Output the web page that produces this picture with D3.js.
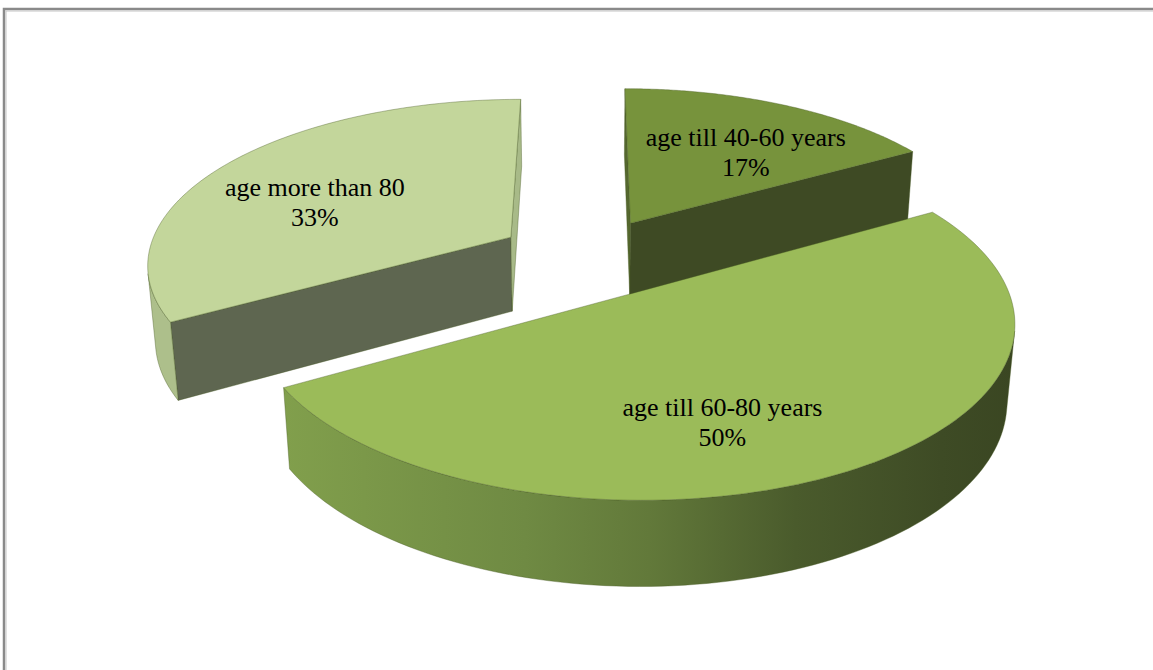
<!DOCTYPE html>
<html>
<head>
<meta charset="utf-8">
<script src="https://cdn.jsdelivr.net/npm/d3@7/dist/d3.min.js"></script>
<style>
  body { margin: 0; background: #fff; }
  svg { display: block; }
</style>
</head>
<body>
<div id="chart"></div>
<script>
// data
var categories = ['age till 40-60 years', 'age till 60-80 years', 'age more than 80'];
var values = [16.7, 50, 33.3];

// colours for each slice: top, start cut, end cut, outer wall
var topColors = ['#77933C', '#9BBB59', '#C3D69B'];
var startColors = ['#55682F', '#7C9A47', '#5E6650'];
var endColors = ['#3E4A24', '#7C9A47', '#A8BA88'];
var wallColors = ['#4A5A2B', 'url(#wallGrad)', '#ADBF8B'];

// where the label sits inside its slice: fraction of the sweep, radius
var labelSpot = [[0.6, 0.61], [0.572, 0.69], [0.433, 0.62]];

var width = 1153;
var height = 670;

// 3d view
var cx = 587;
var cy = 257;
var scale = 364;
var sinT = 0.4506;
var cosT = Math.sqrt(1 - sinT * sinT);
var dist = 5.95;
var explode = 0.246;
var thick = 0.235;
var steps = 120;

var svg = d3.select('#chart').append('svg')
  .attr('width', width)
  .attr('height', height);

var defs = svg.append('defs');
var grad = defs.append('linearGradient')
  .attr('id', 'wallGrad')
  .attr('gradientUnits', 'userSpaceOnUse');
[[0, '#819F4C'], [0.33, '#6F8A43'], [0.5, '#62793A'], [0.7, '#4A5B2C'], [0.9, '#3E4B25'], [1, '#3A4622']]
  .forEach(function (s) {
    grad.append('stop').attr('offset', s[0]).attr('stop-color', s[1]);
  });

// chart frame (right and bottom edges fall outside the picture)
svg.append('path')
  .attr('d', 'M4,' + height + 'V9H' + width)
  .attr('fill', 'none')
  .attr('stroke', '#8a8a8a')
  .attr('stroke-width', 2.5);
svg.append('path')
  .attr('d', 'M6,' + height + 'V11H' + width)
  .attr('fill', 'none')
  .attr('stroke', '#c4c4c4')
  .attr('stroke-width', 1);

function project(X, Y, Z) {
  var depth = 1 + (Z * cosT - Y * sinT) / dist;
  return [cx + scale * X / depth, cy - scale * (Y * cosT + Z * sinT) / depth];
}

// true when the face with normal n through point p looks at the camera
function facing(n, p) {
  return n[0] * (0 - p[0]) + n[1] * (dist * sinT - p[1]) + n[2] * (-dist * cosT - p[2]) > 0;
}

var line = d3.line();
var pct = d3.format('.0%');
var total = d3.sum(values);

var arcs = d3.pie().sort(null).value(function (d) { return d; })(values);

arcs.forEach(function (a, i) {
  var mid = (a.startAngle + a.endAngle) / 2;
  a.index = i;
  a.ox = explode * Math.sin(mid);
  a.oz = explode * Math.cos(mid);
});

// far slices first
var order = arcs.slice().sort(function (p, q) { return q.oz - p.oz; });

var stroke = 'rgba(70,90,35,0.55)';

order.forEach(function (a) {
  var i = a.index;
  var g = svg.append('g').attr('class', 'slice');

  function rim(t, y, r) {
    r = r === undefined ? 1 : r;
    return project(a.ox + r * Math.sin(t), y, a.oz + r * Math.cos(t));
  }
  var c0 = project(a.ox, 0, a.oz);
  var c1 = project(a.ox, -thick, a.oz);

  // radial cuts
  [[a.startAngle, [-Math.cos(a.startAngle), 0, Math.sin(a.startAngle)], startColors[i]],
   [a.endAngle, [Math.cos(a.endAngle), 0, -Math.sin(a.endAngle)], endColors[i]]]
    .forEach(function (f) {
      var t = f[0];
      var p = [a.ox + 0.5 * Math.sin(t), -thick / 2, a.oz + 0.5 * Math.cos(t)];
      if (!facing(f[1], p)) return;
      g.append('path')
        .attr('d', line([c0, rim(t, 0), rim(t, -thick), c1]) + 'Z')
        .attr('fill', f[2])
        .attr('stroke', stroke)
        .attr('stroke-width', 0.7)
        .attr('stroke-linejoin', 'round');
    });

  // outer wall, split into runs that face the camera
  var runs = [];
  var run = null;
  var da = (a.endAngle - a.startAngle) / steps;
  for (var j = 0; j < steps; j++) {
    var t0 = a.startAngle + j * da;
    var tm = t0 + da / 2;
    var vis = facing([Math.sin(tm), 0, Math.cos(tm)],
      [a.ox + Math.sin(tm), -thick / 2, a.oz + Math.cos(tm)]);
    if (vis) {
      if (!run) { run = [t0]; runs.push(run); }
      run[1] = t0 + da;
    } else {
      run = null;
    }
  }
  runs.forEach(function (r) {
    var ts = d3.range(r[0], r[1] + da / 2, da);
    var up = ts.map(function (t) { return rim(t, 0); });
    var down = ts.slice().reverse().map(function (t) { return rim(t, -thick); });
    var pts = up.concat(down);
    if (i === 1) {
      var ext = d3.extent(pts, function (p) { return p[0]; });
      grad.attr('x1', ext[0]).attr('x2', ext[1]).attr('y1', 0).attr('y2', 0);
    }
    g.append('path')
      .attr('d', line(pts) + 'Z')
      .attr('fill', wallColors[i])
      .attr('stroke', stroke)
      .attr('stroke-width', 0.7)
      .attr('stroke-linejoin', 'round');
  });

  // top face
  var top = [c0].concat(d3.range(steps + 1).map(function (j) {
    return rim(a.startAngle + j * da, 0);
  }));
  g.append('path')
    .attr('d', line(top) + 'Z')
    .attr('fill', topColors[i])
    .attr('stroke', stroke)
    .attr('stroke-width', 0.7)
    .attr('stroke-linejoin', 'round');
});

// labels
var labels = svg.append('g')
  .attr('font-family', '"Times New Roman", "Liberation Serif", serif')
  .attr('font-size', 26)
  .attr('fill', '#000')
  .attr('text-anchor', 'middle');

arcs.forEach(function (a, i) {
  var t = a.startAngle + labelSpot[i][0] * (a.endAngle - a.startAngle);
  var r = labelSpot[i][1];
  var p = project(a.ox + r * Math.sin(t), 0, a.oz + r * Math.cos(t));
  var txt = labels.append('text')
    .attr('x', p[0])
    .attr('y', p[1] - 6);
  txt.append('tspan')
    .attr('x', p[0])
    .text(categories[i]);
  txt.append('tspan')
    .attr('x', p[0])
    .attr('dy', 30)
    .text(pct(a.value / total));
});
</script>
</body>
</html>
